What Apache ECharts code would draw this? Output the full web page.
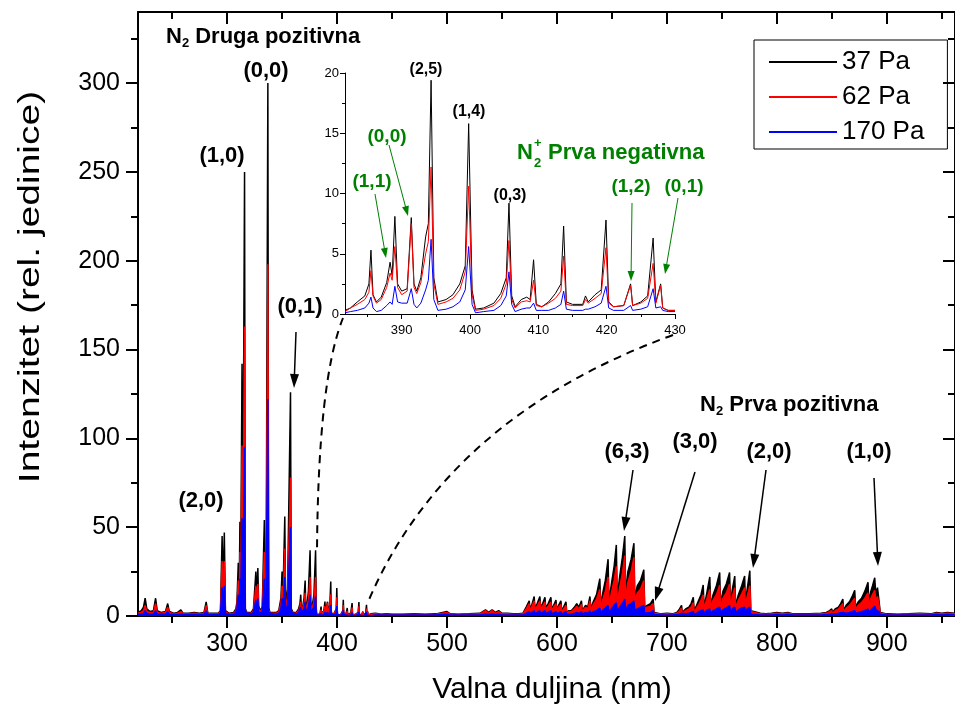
<!DOCTYPE html>
<html><head><meta charset="utf-8">
<script src="https://cdn.jsdelivr.net/npm/echarts@6/dist/echarts.min.js"></script>
<style>html,body{margin:0;padding:0;background:#fff}#c{width:955px;height:710px}</style>
</head><body><div id="c"></div>
<script>
// ---------- DATA ----------
const seriesNames = ['37 Pa', '62 Pa', '170 Pa'];
// main spectrum, short-wavelength part (nm)
const lowNm = [219,222,224,225.5,227,230,233,235,236.5,240,244,246,247.5,252,255,258,260,265,270,275,279,281,282.5,288,292,
  294,295.5,296.3,297.5,298.5,302,306,308,309,310.2,311,311.7,312.3,313.6,314.2,315.9,316.6,318,
  322,324,326.2,326.8,328,328.7,330,332,333.9,334.5,335.5,337.1,337.8,339,342,345,347,
  349,350,350.6,352.5,353.2,355,357.7,358.4,360,363,365,366.3,367,367.6,369,370,371,371.6,373,374,375.5,376.2,378,379,380.5,381.2];
const low37 = [2,3,5,10,4,2.5,3,10,3,2,2.5,7,2.5,1.5,2,3.5,1.5,1.5,2,1.5,2,8,1.5,1.5,1.5,
  3,45,15,47,3,1.5,2,4,8,30,10,53,12,142,20,250,4,2,
  2,4,25,8,27,6,3,5,54,6,15,300,5,2,2,2,3,
  10,25,5,56,8,15,126,4,2,2,4,7,12,4,6,10,20,5,8,14,37,5,8,12,37,3];
const low62 = [1.5,2,3,6,2.5,2,2,7,2,1.5,2,5,2,1.2,1.5,2.5,1.2,1.2,1.5,1.2,1.5,6,1.2,1.2,1.2,
  2.5,31,10,31,2.5,1.2,1.5,3,6,20,7,36,8,96,14,163,3,1.5,
  1.5,3,17,6,18,4,2.5,4,36,4,10,198,3.5,1.5,1.5,1.5,2.5,
  7,17,4,38,6,10,78,3,1.5,1.5,3,5,8,3,4,7,13,4,6,9,22,4,6,8,22,2.5];
const low170 = [1,1,1.5,3,1.5,1,1,3,1,1,1,2.5,1,0.8,0.8,1,0.8,0.8,0.8,0.8,0.8,3,0.8,0.8,0.8,
  1.5,16,5,17,1.5,0.8,1,2,4,12,4,21,5,55,8,95,2,1,
  1,2,9,3,10,2,1.5,2,21,2.5,6,122,2,1,1,1,1.5,
  4,10,2,22,3,6,50,2,1,1,2,3,5,2,2.5,4,8,2,3,5,12,2,3,5,11,1];
// 381.7 - 430 nm (shown in the inset, also part of the main spectrum)
const insetNm = [381.7,382.5,383.5,384.6,385.2,385.5,385.8,386.3,387,387.8,
  388.3,388.6,389.0,389.4,390.0,390.8,391.4,391.8,392.2,392.8,
  393.5,393.9,394.3,394.7,395.3,396.5,397.5,398.5,399.3,399.8,
  400.3,400.8,402,403.5,404.5,405.3,405.7,406.1,406.6,407.5,
  408.3,408.8,409.3,409.7,410.5,411.5,412.5,413.3,413.7,414.1,
  415,416.5,416.9,417.3,418.3,419.2,419.9,420.3,421,422.5,
  423.5,423.8,425,426,426.8,427.2,427.9,428.2,429,430];
const inset37 = [0.3,0.5,1.0,1.5,2.5,5.3,1.6,1.0,1.4,2.6,
  4.3,3.2,8.1,2.5,1.9,2.1,8.0,2.5,1.9,3.0,
  6.4,7.5,19.4,3.0,1.0,1.2,1.6,2.5,4.0,15.8,
  2.0,0.4,0.5,0.9,1.7,3.0,9.2,1.5,0.6,1.2,
  1.4,1.2,4.5,0.8,0.6,1.0,1.7,2.5,7.3,1.0,
  0.8,0.8,1.5,1.0,1.6,2.0,7.8,1.0,0.6,0.7,
  2.5,0.7,1.0,1.5,6.3,1.0,2.5,0.5,0.3,0.3];
const inset62 = [0.2,0.5,0.8,1.2,1.8,3.6,1.5,0.9,1.2,2.2,
  3.4,2.8,5.6,2.2,1.6,1.9,7.5,2.2,1.7,2.6,
  5.0,6.0,12.2,2.5,0.8,1.0,1.3,2.0,3.5,10.6,
  1.6,0.3,0.4,0.7,1.3,2.5,6.1,1.2,0.5,1.0,
  1.1,1.0,2.8,0.7,0.6,0.9,1.3,1.9,4.8,0.8,
  0.7,0.7,1.2,0.9,1.3,1.7,5.5,0.9,0.6,0.7,
  2.4,0.7,0.9,1.3,4.2,0.9,2.4,0.5,0.3,0.3];
const inset170 = [0.1,0.2,0.3,0.5,0.9,1.4,0.5,0.2,0.3,0.7,
  1.0,0.8,2.3,1.0,0.9,0.9,2.1,0.8,0.5,0.9,
  2.0,2.8,6.2,1.2,0.3,0.4,0.6,1.0,2.0,5.6,
  0.8,0.1,0.2,0.3,0.7,1.5,3.5,0.8,0.2,0.4,
  0.5,0.5,0.9,0.3,0.3,0.3,0.5,0.8,1.9,0.4,
  0.3,0.3,0.4,0.4,0.6,0.9,2.3,0.5,0.3,0.3,
  0.7,0.3,0.4,0.6,2.1,0.5,0.6,0.3,0.2,0.2];
// main spectrum, long-wavelength part
const highNm = [430.5,435,440,445,450,460,470,480,490,500,503,510,520,530,535,538,541,544,547,550,555,560,565,569,
  570,572,574.8,575.5,577,579.3,580,582,584.5,585.2,587,589.1,589.8,592,594.5,595.2,597,599.1,599.8,601.5,603.6,604.3,606,608.2,608.9,611,
  613,616,618,620,622.3,623,626,628,630,630.8,633,636,639,639.8,642,644,646.5,647.3,649.5,652,
  654,654.8,657,659.5,661.7,662.5,664.5,667.5,670,670.8,673,676,679,679.8,682,685,687.5,688.3,690,695,700,705,709,
  711,713.3,714,717,720,722,724,724.8,727,729,731,733,733.8,736,739,739.8,742,745,748,748.8,
  751,754,757,757.8,759.5,761.7,762.5,765,768,770.7,771.3,773,775.4,776.3,778,785,790,795,800,805,810,815,820,830,840,
  845,848,849.9,850.6,853,856,858,860,860.8,863,866,868.5,870.8,871.6,874,877,880,882.9,883.6,885.5,
  887,889,890,891.5,893,894,900,910,920,930,940,945,950,955,962];
const high37 = [1.2,1.5,1,1.2,1,1,1.2,1,1.2,2.5,1.2,1,1.2,1.5,3.5,2,3.5,2,3,1.5,1.5,1.2,1.2,1.5,
  2,5,8.5,4,6,11,4.5,7,11,4.5,7,10.5,4.5,7,10.5,4,6,9,3.5,6,8.5,3,5,8,2,3,
  3,5,7,5,8.5,3,6,5,11,4,8,12,21,6,14,20,32,8,18,28,
  40,10,22,33,45,12,25,32,41,10,17,20,26,5,6,7,9.5,2,1.5,1.2,1.5,1.2,2,
  3.5,6,2,4,5,7,10.5,3,6,9,12,17.5,5,12,22,6,12,17,24.5,7,
  14,18,24.5,7,15,22.5,6,12,17,22.5,8,15,25.5,3,2,1.5,1.2,1.5,2,1.5,2,1.2,1.2,1.2,1.5,
  2,3,4,2,4,5,7,9.5,3,6,8,11,14.5,5,8,10,14,19,8,14,
  17,21.5,12,16,8,2,1.2,1,1.2,1.5,1.2,2,1.5,2,1.5];
const high62 = [1,1.2,0.8,1,0.8,0.8,1,0.8,1,2,1,0.8,1,1.2,3,1.5,3,1.5,2.5,1.2,1.2,1,1,1.2,
  1.5,4,7,3,5,8.5,3.5,5.5,8.5,3.5,5.5,8,3.5,5.5,8,3,5,7,3,5,6.5,2.5,4,6,1.5,2.5,
  2.5,4,5.5,4,6.5,2.5,5,4,8.5,3,6.5,9.5,15,4.5,10,14,22,6,13,20,
  28,7,16,24,34,9,19,25,33,8,13,15,20,4,5,5.5,7,1.5,1.2,1,1.2,1,1.5,
  2.5,4.5,1.5,3,4,5,7.5,2.5,4.5,6.5,9,12,4,9,15,4.5,9,12,17.5,5,
  10,13,18,5,11,16,4.5,9,12.5,16,6,11,17,2.5,1.5,1.2,1,1.2,1.5,1.2,1.5,1,1,1,1.2,
  1.5,2.5,3,1.5,3,4,5.5,7,2.5,4.5,6,8,10,4,6,7.5,10,13,6,10,
  12,14.5,9,11,6,1.5,1,0.8,1,1.2,1,1.5,1.2,1.5,1.2];
const high170 = [0.5,0.6,0.5,0.5,0.5,0.5,0.5,0.5,0.5,1,0.5,0.5,0.5,0.6,1.2,0.8,1.2,0.8,1,0.6,0.6,0.5,0.5,0.6,
  0.8,1.5,2.5,1.2,2,3,1.5,2,3,1.5,2,3,1.5,2,3,1.2,2,2.5,1.2,2,2.5,1,1.5,2.5,0.8,1,
  1,1.5,2,1.5,2.5,1,2,1.5,3,1.2,2.5,3,4.5,1.5,3.5,4.5,6,2,4,6,
  7.5,2.5,5,7,9.5,3,6,7,8.5,3,4,5,6,1.5,1.8,2,3,0.8,0.6,0.5,0.6,0.5,0.8,
  1,1.5,0.8,1.2,1.5,2,2.5,1,1.5,2.5,3,3.5,1.5,3,4,1.5,3,4,5,2,
  3.5,4.5,6,2,4,5,2,3.5,4.5,5,2,4,5,1,0.8,0.6,0.5,0.6,0.8,0.6,0.8,0.5,0.5,0.5,0.6,
  0.8,1,1.2,0.8,1.2,1.5,1.8,2,1,1.5,2,2.5,3,1.5,2,2.5,3,4,2,3.5,
  4.5,5.5,3.5,4.5,2.5,0.8,0.5,0.5,0.5,0.6,0.5,0.8,0.6,0.8,0.6];
// tick values
const xMajorTicks = [300,400,500,600,700,800,900];
const xMinorTicks = [250,350,450,550,650,750,850,950];
const yMajorTicks = [0,50,100,150,200,250,300];
const yMinorTicks = [25,75,125,175,225,275,325];
const insetXMajor = [390,400,410,420,430];
const insetXMinor = [385,395,405,415,425];
const insetYMajor = [0,5,10,15,20];
const insetYMinor = [2.5,7.5,12.5,17.5];

// ---------- CHART ----------
const FF = "Arial, 'Liberation Sans', Helvetica, sans-serif";
const colors = ['#000000', '#ff0000', '#0000ff'];
const zip = (x, y) => x.map((v, i) => [v, y[i]]);
const mainNm = lowNm.concat(insetNm, highNm);
const mainVals = [low37.concat(inset37, high37), low62.concat(inset62, high62), low170.concat(inset170, high170)];
const insetVals = [inset37, inset62, inset170];

const chart = echarts.init(document.getElementById('c'), null, {renderer: 'canvas'});

function tickAxis(extra) {
  return Object.assign({type: 'value', splitLine: {show: false}, axisLabel: {show: false},
    axisLine: {show: false, onZero: false}}, extra);
}
const blackLine = (w) => ({color: '#000', width: w});

const xAxes = [
  tickAxis({gridIndex: 0, min: 219, max: 962, position: 'bottom',
    axisLine: {show: true, onZero: false, lineStyle: blackLine(2)},
    axisTick: {show: true, customValues: xMajorTicks, length: 12, lineStyle: blackLine(2)},
    axisLabel: {show: true, customValues: xMajorTicks, fontSize: 25, color: '#000', fontFamily: FF, margin: 16}}),
  tickAxis({gridIndex: 0, min: 219, max: 962, position: 'bottom',
    axisTick: {show: true, customValues: xMinorTicks, length: 7, lineStyle: blackLine(2)}}),
  tickAxis({gridIndex: 0, min: 219, max: 962, position: 'top',
    axisLine: {show: true, onZero: false, lineStyle: blackLine(2)},
    axisTick: {show: true, inside: true, customValues: xMajorTicks, length: 12, lineStyle: blackLine(2)}}),
  tickAxis({gridIndex: 0, min: 219, max: 962, position: 'top',
    axisTick: {show: true, inside: true, customValues: xMinorTicks, length: 7, lineStyle: blackLine(2)}}),
  tickAxis({gridIndex: 1, min: 381.7, max: 430, position: 'bottom',
    axisLine: {show: true, onZero: false, lineStyle: blackLine(1)},
    axisTick: {show: true, customValues: insetXMajor, length: 5, lineStyle: blackLine(1)},
    axisLabel: {show: true, customValues: insetXMajor, fontSize: 13, color: '#000', fontFamily: FF, margin: 10}}),
  tickAxis({gridIndex: 1, min: 381.7, max: 430, position: 'bottom',
    axisTick: {show: true, customValues: insetXMinor, length: 3, lineStyle: blackLine(1)}})
];
const yAxes = [
  tickAxis({gridIndex: 0, min: 0, max: 340, position: 'left',
    axisLine: {show: true, onZero: false, lineStyle: blackLine(2)},
    axisTick: {show: true, customValues: yMajorTicks, length: 12, lineStyle: blackLine(2)},
    axisLabel: {show: true, customValues: yMajorTicks, fontSize: 25, color: '#000', fontFamily: FF, margin: 18}}),
  tickAxis({gridIndex: 0, min: 0, max: 340, position: 'left',
    axisTick: {show: true, customValues: yMinorTicks, length: 7, lineStyle: blackLine(2)}}),
  tickAxis({gridIndex: 0, min: 0, max: 340, position: 'right',
    axisLine: {show: true, onZero: false, lineStyle: blackLine(2)},
    axisTick: {show: true, inside: true, customValues: yMajorTicks, length: 12, lineStyle: blackLine(2)}}),
  tickAxis({gridIndex: 0, min: 0, max: 340, position: 'right',
    axisTick: {show: true, inside: true, customValues: yMinorTicks, length: 7, lineStyle: blackLine(2)}}),
  tickAxis({gridIndex: 1, min: 0, max: 20, position: 'left',
    axisLine: {show: true, onZero: false, lineStyle: blackLine(1)},
    axisTick: {show: true, customValues: insetYMajor, length: 5, lineStyle: blackLine(1)},
    axisLabel: {show: true, customValues: insetYMajor, fontSize: 13, color: '#000', fontFamily: FF, margin: 6}}),
  tickAxis({gridIndex: 1, min: 0, max: 20, position: 'left',
    axisTick: {show: true, customValues: insetYMinor, length: 3, lineStyle: blackLine(1)}})
];

const series = [];
seriesNames.forEach((name, i) => {
  series.push({name, type: 'line', xAxisIndex: 0, yAxisIndex: 0, data: zip(mainNm, mainVals[i]),
    symbol: 'none', showSymbol: false, clip: true, z: 2 + i,
    lineStyle: {color: colors[i], width: 1.5}, itemStyle: {color: colors[i]},
    areaStyle: {color: colors[i], opacity: 1}});
});
seriesNames.forEach((name, i) => {
  series.push({name: name + ' (inset)', type: 'line', xAxisIndex: 4, yAxisIndex: 4, data: zip(insetNm, insetVals[i]),
    symbol: 'none', showSymbol: false, clip: true, z: 6 + i,
    lineStyle: {color: colors[i], width: 1}, itemStyle: {color: colors[i]}});
});

// ---------- annotations ----------
function txt(x, y, text, color, size, align) {
  return {type: 'text', x, y, z: 100, silent: true,
    style: {text, fill: color, font: 'bold ' + size + 'px ' + FF,
      align: align || 'center', textAlign: align || 'center', verticalAlign: 'middle', textVerticalAlign: 'middle'}};
}
function arrow(x1, y1, x2, y2, color, w, hl, hw) {
  const dx = x2 - x1, dy = y2 - y1, L = Math.hypot(dx, dy), ux = dx / L, uy = dy / L;
  const bx = x2 - ux * hl, by = y2 - uy * hl;
  return [
    {type: 'line', z: 100, silent: true, shape: {x1, y1, x2: bx + ux, y2: by + uy}, style: {stroke: color, lineWidth: w}},
    {type: 'polygon', z: 100, silent: true, shape: {points: [[x2, y2], [bx - uy * hw, by + ux * hw], [bx + uy * hw, by - ux * hw]]}, style: {fill: color}}
  ];
}
const GREEN = '#008000';
const graphics = [
  // axis titles
  {type: 'text', x: 552, y: 690, z: 100, style: {text: 'Valna duljina (nm)', fill: '#000', font: '30px ' + FF,
    align: 'center', textAlign: 'center', verticalAlign: 'middle', textVerticalAlign: 'middle'}},
  {type: 'text', x: 31, y: 287, rotation: Math.PI / 2, scaleX: 1.3, z: 100, style: {text: 'Intenzitet (rel. jedinice)', fill: '#000', font: '30px ' + FF,
    align: 'center', textAlign: 'center', verticalAlign: 'middle', textVerticalAlign: 'middle'}},
  // band system titles
  {type: 'text', x: 166, y: 37, z: 100, style: {text: '{n|N}{s|2}{n| Druga pozitivna}', align: 'left', textAlign: 'left',
    verticalAlign: 'middle', textVerticalAlign: 'middle',
    rich: {n: {fontSize: 22, fontWeight: 'bold', fontFamily: FF, fill: '#000', lineHeight: 26},
           s: {fontSize: 13, fontWeight: 'bold', fontFamily: FF, fill: '#000', lineHeight: 9, verticalAlign: 'bottom'}}}},
  {type: 'text', x: 700, y: 405, z: 100, style: {text: '{n|N}{s|2}{n| Prva pozitivna}', align: 'left', textAlign: 'left',
    verticalAlign: 'middle', textVerticalAlign: 'middle',
    rich: {n: {fontSize: 22, fontWeight: 'bold', fontFamily: FF, fill: '#000', lineHeight: 26},
           s: {fontSize: 13, fontWeight: 'bold', fontFamily: FF, fill: '#000', lineHeight: 9, verticalAlign: 'bottom'}}}},
  txt(517, 153, 'N', GREEN, 22, 'left'),
  txt(534, 143, '+', GREEN, 13, 'left'),
  txt(534, 163, '2', GREEN, 13, 'left'),
  txt(548, 153, 'Prva negativna', GREEN, 22, 'left'),
  // main band labels
  txt(266, 71, '(0,0)', '#000', 22),
  txt(222, 156, '(1,0)', '#000', 22),
  txt(300, 307, '(0,1)', '#000', 22),
  txt(201, 501, '(2,0)', '#000', 22),
  txt(627, 452, '(6,3)', '#000', 22),
  txt(695, 442, '(3,0)', '#000', 22),
  txt(769, 452, '(2,0)', '#000', 22),
  txt(869, 452, '(1,0)', '#000', 22),
  // inset labels
  txt(426, 70, '(2,5)', '#000', 16),
  txt(469, 112, '(1,4)', '#000', 16),
  txt(510, 196, '(0,3)', '#000', 16),
  txt(372, 182, '(1,1)', GREEN, 19),
  txt(387, 137, '(0,0)', GREEN, 19),
  txt(631, 187, '(1,2)', GREEN, 19),
  txt(684, 187, '(0,1)', GREEN, 19),
  // dashed connectors
  {type: 'bezierCurve', z: 90, silent: true, shape: {x1: 343, y1: 318, x2: 317, y2: 553, cpx1: 318, cpy1: 380},
    style: {stroke: '#000', lineWidth: 2, lineDash: [8, 6], fill: null}},
  {type: 'bezierCurve', z: 90, silent: true, shape: {x1: 673, y1: 335, x2: 368, y2: 602, cpx1: 447, cpy1: 417},
    style: {stroke: '#000', lineWidth: 2, lineDash: [8, 6], fill: null}}
].concat(
  arrow(296, 332, 294, 388, '#000', 1.5, 14, 4.5),
  arrow(633, 470, 624, 531, '#000', 1.5, 14, 4.5),
  arrow(695, 472, 655, 601, '#000', 1.5, 14, 4.5),
  arrow(766, 470, 753, 568, '#000', 1.5, 14, 4.5),
  arrow(874, 478, 878, 566, '#000', 1.5, 14, 4.5),
  arrow(375, 194, 386, 258, GREEN, 1, 10, 3.5),
  arrow(389, 145, 408, 216, GREEN, 1, 10, 3.5),
  arrow(632, 203, 631, 281, GREEN, 1, 10, 3.5),
  arrow(678, 198, 665, 274, GREEN, 1, 10, 3.5)
);

chart.setOption({
  animation: false,
  backgroundColor: '#fff',
  grid: [
    {left: 138, right: 0, top: 12, bottom: 94, containLabel: false, outerBoundsMode: 'none'},
    {left: 345, right: 280, top: 73, bottom: 396, containLabel: false, outerBoundsMode: 'none'}
  ],
  legend: {data: seriesNames, orient: 'vertical', left: 754, top: 40, padding: [9, 23, 4, 15], itemGap: 9,
    itemWidth: 68, itemHeight: 2, icon: 'rect', borderColor: '#000', borderWidth: 1, selectedMode: false,
    textStyle: {fontSize: 26, lineHeight: 26, color: '#000', fontFamily: FF}},
  xAxis: xAxes,
  yAxis: yAxes,
  series,
  graphic: {elements: graphics}
});
</script></body></html>
